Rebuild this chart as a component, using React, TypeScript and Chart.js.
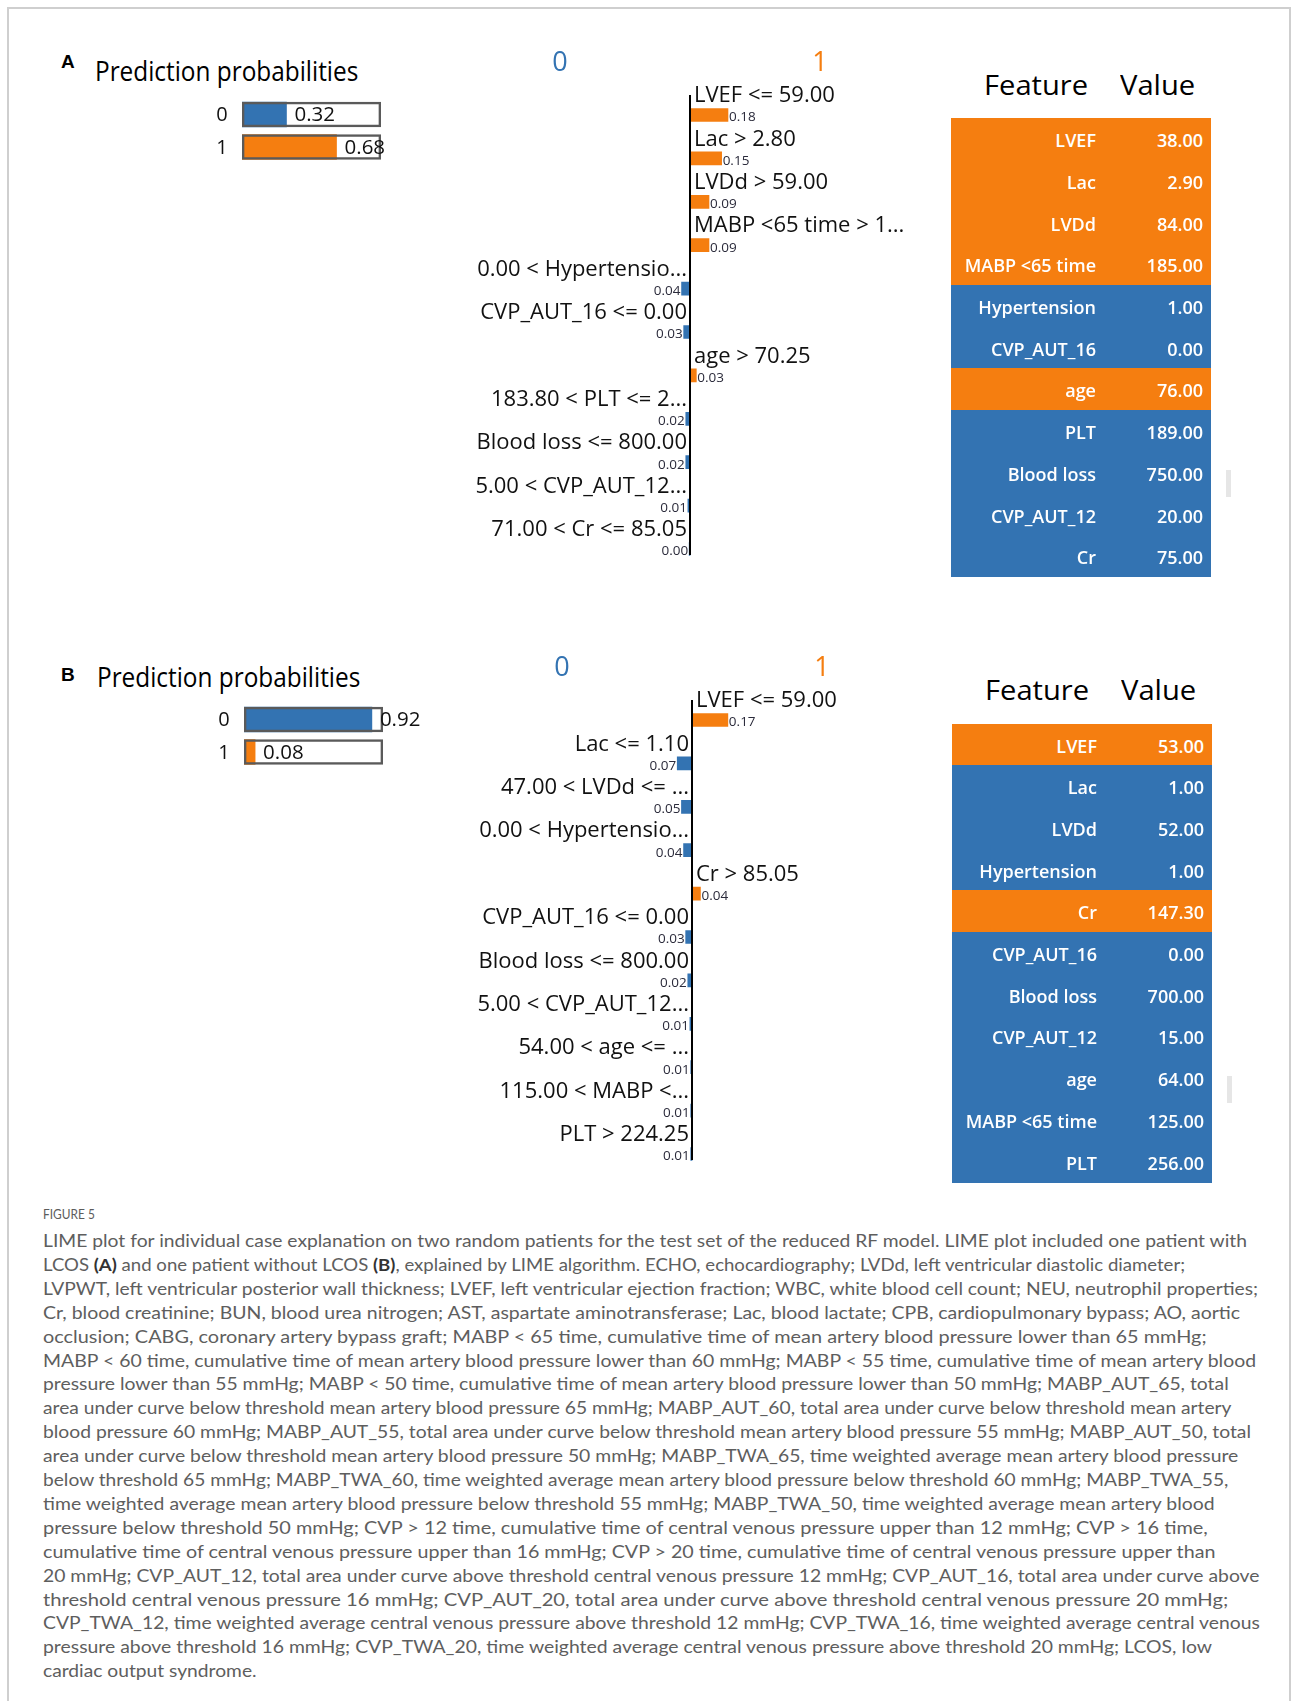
import React, { useEffect, useLayoutEffect, useRef, useState } from 'react';
import { Chart, registerables } from 'chart.js';

Chart.register(...registerables);

const ORANGE = '#f57e10';
const BLUE = '#3373b2';
const UI_FONT = '"Open Sans", "Noto Sans", sans-serif';
const CAPTION_FONT = 'Lato, "Open Sans", sans-serif';

const classNames = ['0', '1'];

// Case A: patient with LCOS
const probsA = [0.32, 0.68];
const rulesA = [
  'LVEF <= 59.00',
  'Lac > 2.80',
  'LVDd > 59.00',
  'MABP <65 time > 1...',
  '0.00 < Hypertensio...',
  'CVP_AUT_16 <= 0.00',
  'age > 70.25',
  '183.80 < PLT <= 2...',
  'Blood loss <= 800.00',
  '5.00 < CVP_AUT_12...',
  '71.00 < Cr <= 85.05',
];
const weightsA = [0.18, 0.15, 0.09, 0.09, -0.04, -0.03, 0.03, -0.02, -0.02, -0.01, -0.004];
const featuresA = ['LVEF', 'Lac', 'LVDd', 'MABP <65 time', 'Hypertension', 'CVP_AUT_16', 'age', 'PLT', 'Blood loss', 'CVP_AUT_12', 'Cr'];
const valuesA = [38, 2.9, 84, 185, 1, 0, 76, 189, 750, 20, 75];

// Case B: patient without LCOS
const probsB = [0.92, 0.08];
const rulesB = [
  'LVEF <= 59.00',
  'Lac <= 1.10',
  '47.00 < LVDd <= ...',
  '0.00 < Hypertensio...',
  'Cr > 85.05',
  'CVP_AUT_16 <= 0.00',
  'Blood loss <= 800.00',
  '5.00 < CVP_AUT_12...',
  '54.00 < age <= ...',
  '115.00 < MABP <...',
  'PLT > 224.25',
];
const weightsB = [0.17, -0.07, -0.05, -0.04, 0.04, -0.03, -0.02, -0.01, -0.006, -0.006, -0.006];
const featuresB = ['LVEF', 'Lac', 'LVDd', 'Hypertension', 'Cr', 'CVP_AUT_16', 'Blood loss', 'CVP_AUT_12', 'age', 'MABP <65 time', 'PLT'];
const valuesB = [53, 1, 52, 1, 147.3, 0, 700, 15, 64, 125, 256];

const captionLines: (string | { b: string })[][] = [
  ['LIME plot for individual case explanation on two random patients for the test set of the reduced RF model. LIME plot included one patient with'],
  ['LCOS ', { b: '(A)' }, ' and one patient without LCOS ', { b: '(B)' }, ', explained by LIME algorithm. ECHO, echocardiography; LVDd, left ventricular diastolic diameter;'],
  ['LVPWT, left ventricular posterior wall thickness; LVEF, left ventricular ejection fraction; WBC, white blood cell count; NEU, neutrophil properties;'],
  ['Cr, blood creatinine; BUN, blood urea nitrogen; AST, aspartate aminotransferase; Lac, blood lactate; CPB, cardiopulmonary bypass; AO, aortic'],
  ['occlusion; CABG, coronary artery bypass graft; MABP < 65 time, cumulative time of mean artery blood pressure lower than 65 mmHg;'],
  ['MABP < 60 time, cumulative time of mean artery blood pressure lower than 60 mmHg; MABP < 55 time, cumulative time of mean artery blood'],
  ['pressure lower than 55 mmHg; MABP < 50 time, cumulative time of mean artery blood pressure lower than 50 mmHg; MABP_AUT_65, total'],
  ['area under curve below threshold mean artery blood pressure 65 mmHg; MABP_AUT_60, total area under curve below threshold mean artery'],
  ['blood pressure 60 mmHg; MABP_AUT_55, total area under curve below threshold mean artery blood pressure 55 mmHg; MABP_AUT_50, total'],
  ['area under curve below threshold mean artery blood pressure 50 mmHg; MABP_TWA_65, time weighted average mean artery blood pressure'],
  ['below threshold 65 mmHg; MABP_TWA_60, time weighted average mean artery blood pressure below threshold 60 mmHg; MABP_TWA_55,'],
  ['time weighted average mean artery blood pressure below threshold 55 mmHg; MABP_TWA_50, time weighted average mean artery blood'],
  ['pressure below threshold 50 mmHg; CVP > 12 time, cumulative time of central venous pressure upper than 12 mmHg; CVP > 16 time,'],
  ['cumulative time of central venous pressure upper than 16 mmHg; CVP > 20 time, cumulative time of central venous pressure upper than'],
  ['20 mmHg; CVP_AUT_12, total area under curve above threshold central venous pressure 12 mmHg; CVP_AUT_16, total area under curve above'],
  ['threshold central venous pressure 16 mmHg; CVP_AUT_20, total area under curve above threshold central venous pressure 20 mmHg;'],
  ['CVP_TWA_12, time weighted average central venous pressure above threshold 12 mmHg; CVP_TWA_16, time weighted average central venous'],
  ['pressure above threshold 16 mmHg; CVP_TWA_20, time weighted average central venous pressure above threshold 20 mmHg; LCOS, low'],
  ['cardiac output syndrome.'],
];

// Set width of each caption line in the column
const captionWidths = [1204, 1142, 1215, 1197, 1164, 1213, 1186, 1188, 1208, 1195, 1186, 1172, 1165, 1172, 1217, 1185, 1217, 1169, 214];

// Pixels per unit of LIME weight and row pitch of the explanation bars
const LIME_UNIT = 211;
const LIME_ROW = 43.4;
const PROB_BOX = 139;
const PROB_ROW = 32.5;

const probLabelPlugin = {
  id: 'probLabels',
  afterDatasetsDraw(chart: any) {
    const { ctx } = chart;
    const x = chart.scales.x;
    const y = chart.scales.y;
    const probs = chart.data.datasets[0].data as number[];
    ctx.save();
    ctx.fillStyle = '#111';
    ctx.textBaseline = 'middle';
    probs.forEach((p, i) => {
      const yc = y.getPixelForValue(i);
      ctx.font = `20px ${UI_FONT}`;
      ctx.textAlign = 'center';
      ctx.fillText(classNames[i], x.getPixelForValue(0) - 20, yc + 1);
      ctx.font = `20.5px ${UI_FONT}`;
      ctx.textAlign = 'left';
      ctx.fillText(p.toFixed(2), x.getPixelForValue(p) + 8, yc + 1);
    });
    ctx.restore();
  },
};

function ProbChart({ areaLeft, firstCenter, probs }: { areaLeft: number; firstCenter: number; probs: number[] }) {
  const ref = useRef<HTMLCanvasElement>(null);
  const W = 260;
  const H = 72;
  const padLeft = 62;
  const padTop = 3.25;
  useEffect(() => {
    const chart = new Chart(ref.current!, {
      type: 'bar',
      data: {
        labels: classNames,
        datasets: [
          {
            data: probs,
            backgroundColor: [BLUE, ORANGE],
            borderWidth: 0,
            barThickness: 25,
            grouped: false,
            order: 1,
          } as any,
          {
            data: classNames.map(() => 1),
            backgroundColor: 'rgba(0,0,0,0)',
            borderColor: '#5a5a5a',
            borderWidth: 2,
            borderSkipped: false,
            barThickness: 25,
            grouped: false,
            order: 0,
          } as any,
        ],
      },
      options: {
        indexAxis: 'y',
        responsive: false,
        animation: false,
        layout: { padding: { left: padLeft, right: W - padLeft - PROB_BOX, top: padTop, bottom: H - padTop - PROB_ROW * 2 } },
        scales: { x: { display: false, min: 0, max: 1 }, y: { display: false } },
        plugins: { legend: { display: false }, tooltip: { enabled: false } },
      },
      plugins: [probLabelPlugin],
    });
    return () => chart.destroy();
  }, [probs]);
  const top = firstCenter - PROB_ROW / 2 - padTop;
  return (
    <canvas
      ref={ref}
      width={W}
      height={H}
      style={{ position: 'absolute', left: areaLeft - padLeft, top, width: W, height: H }}
    />
  );
}

const limePlugin = {
  id: 'limeRules',
  afterDatasetsDraw(chart: any) {
    const { ctx } = chart;
    const x = chart.scales.x;
    const y = chart.scales.y;
    const labels = chart.data.labels as string[];
    const w = chart.data.datasets[0].data as number[];
    const x0 = x.getPixelForValue(0);
    const yFirst = y.getPixelForValue(0);
    const yLast = y.getPixelForValue(w.length - 1);
    ctx.save();
    ctx.textBaseline = 'middle';
    ctx.font = `27px ${UI_FONT}`;
    ctx.textAlign = 'center';
    ctx.fillStyle = BLUE;
    ctx.fillText(classNames[0], x0 - 130, yFirst - 52);
    ctx.fillStyle = ORANGE;
    ctx.fillText(classNames[1], x0 + 130, yFirst - 52);

    ctx.fillStyle = '#000';
    ctx.fillRect(x0 - 1, yFirst - 20, 2, yLast - yFirst + 26);

    w.forEach((v, i) => {
      const yc = y.getPixelForValue(i);
      const xe = x.getPixelForValue(v);
      const pos = v > 0;
      ctx.textAlign = pos ? 'left' : 'right';
      ctx.fillStyle = '#111';
      ctx.font = `22px ${UI_FONT}`;
      ctx.fillText(labels[i], pos ? x0 + 4 : x0 - 3, yc - 19);
      ctx.fillStyle = '#2b2b3b';
      ctx.font = `13.5px ${UI_FONT}`;
      ctx.fillText(Math.abs(v).toFixed(2), pos ? xe + 1 : xe - 1, yc + 2.5);
    });
    ctx.restore();
  },
};

function LimeChart({ axisX, firstBar, rules, weights }: { axisX: number; firstBar: number; rules: string[]; weights: number[] }) {
  const ref = useRef<HTMLCanvasElement>(null);
  const W = 560;
  const H = 543;
  const leftOfAxis = 290;
  const padTop = 75 - LIME_ROW / 2;
  useEffect(() => {
    const chart = new Chart(ref.current!, {
      type: 'bar',
      data: {
        labels: rules,
        datasets: [
          {
            data: weights,
            backgroundColor: weights.map((v) => (v > 0 ? ORANGE : BLUE)),
            borderWidth: 0,
            barThickness: 13,
          } as any,
        ],
      },
      options: {
        indexAxis: 'y',
        responsive: false,
        animation: false,
        layout: {
          padding: {
            left: leftOfAxis - LIME_UNIT,
            right: W - leftOfAxis - LIME_UNIT,
            top: padTop,
            bottom: H - padTop - LIME_ROW * rules.length,
          },
        },
        scales: { x: { display: false, min: -1, max: 1 }, y: { display: false } },
        plugins: { legend: { display: false }, tooltip: { enabled: false } },
      },
      plugins: [limePlugin],
    });
    return () => chart.destroy();
  }, [rules, weights]);
  return (
    <canvas
      ref={ref}
      width={W}
      height={H}
      style={{ position: 'absolute', left: axisX - leftOfAxis, top: firstBar - 75, width: W, height: H }}
    />
  );
}

function FitText({
  children,
  left,
  centerY,
  width,
  font,
  color = '#111',
  lineH = 40,
}: {
  children: React.ReactNode;
  left: number;
  centerY: number;
  width: number;
  font: string;
  color?: string;
  lineH?: number;
}) {
  const ref = useRef<HTMLSpanElement>(null);
  const [sx, setSx] = useState(1);
  useLayoutEffect(() => {
    const measure = () => {
      const el = ref.current;
      if (el && el.offsetWidth > 0) setSx(width / el.offsetWidth);
    };
    measure();
    (document as any).fonts?.ready?.then(measure);
  }, [width, font]);
  return (
    <span
      ref={ref}
      style={{
        position: 'absolute',
        left,
        top: centerY - lineH / 2,
        height: lineH,
        lineHeight: `${lineH}px`,
        whiteSpace: 'nowrap',
        font,
        color,
        transform: `scaleX(${sx})`,
        transformOrigin: 'left center',
      }}
    >
      {children}
    </span>
  );
}

function FeatureTable({ left, top, features, values, weights }: { left: number; top: number; features: string[]; values: number[]; weights: number[] }) {
  const rowH = 41.7;
  const width = 260;
  return (
    <>
      <FitText left={left + 33} centerY={top - 33.5} width={104} font={`28px ${UI_FONT}`} color="#000">
        Feature
      </FitText>
      <FitText left={left + 169} centerY={top - 33.5} width={75} font={`28px ${UI_FONT}`} color="#000">
        Value
      </FitText>
      {features.map((f, i) => (
        <div
          key={f + i}
          style={{
            position: 'absolute',
            left,
            top: top + i * rowH,
            width,
            height: rowH + 0.5,
            background: weights[i] > 0 ? ORANGE : BLUE,
            color: '#fff',
            font: `600 18px ${UI_FONT}`,
          }}
        >
          <span style={{ position: 'absolute', right: width - 145, top: 2, lineHeight: `${rowH}px`, whiteSpace: 'nowrap' }}>{f}</span>
          <span style={{ position: 'absolute', right: width - 252, top: 2, lineHeight: `${rowH}px`, whiteSpace: 'nowrap' }}>
            {values[i].toFixed(2)}
          </span>
        </div>
      ))}
      <div style={{ position: 'absolute', left: left + 275, top: top + 352, width: 5, height: 27, background: '#e6e6e6' }} />
    </>
  );
}

function Panel(props: {
  letter: string;
  letterY: number;
  titleLeft: number;
  titleY: number;
  probLeft: number;
  probCenter: number;
  probs: number[];
  axisX: number;
  firstBar: number;
  rules: string[];
  weights: number[];
  tableLeft: number;
  tableTop: number;
  features: string[];
  values: number[];
}) {
  return (
    <>
      <span
        style={{
          position: 'absolute',
          left: 61,
          top: props.letterY - 12,
          lineHeight: '24px',
          font: 'bold 19px "Liberation Sans", Arial, sans-serif',
          color: '#000',
        }}
      >
        {props.letter}
      </span>
      <FitText left={props.titleLeft} centerY={props.titleY} width={263} font={`26.5px ${UI_FONT}`} color="#000">
        Prediction probabilities
      </FitText>
      <ProbChart areaLeft={props.probLeft} firstCenter={props.probCenter} probs={props.probs} />
      <LimeChart axisX={props.axisX} firstBar={props.firstBar} rules={props.rules} weights={props.weights} />
      <FeatureTable left={props.tableLeft} top={props.tableTop} features={props.features} values={props.values} weights={props.weights} />
    </>
  );
}

function Caption() {
  const lineH = 23.9;
  return (
    <>
      <FitText left={43} centerY={1216} width={52} font={`13.5px ${CAPTION_FONT}`} color="#5c5c5c" lineH={20}>
        FIGURE 5
      </FitText>
      {captionLines.map((parts, i) => (
        <FitText
          key={i}
          left={43}
          centerY={1242 + i * lineH}
          width={captionWidths[i]}
          font={`17.5px ${CAPTION_FONT}`}
          color="#5e5e5e"
          lineH={24}
        >
          {parts.map((p, j) =>
            typeof p === 'string' ? (
              <span key={j}>{p}</span>
            ) : (
              <b key={j} style={{ color: '#333' }}>
                {p.b}
              </b>
            )
          )}
        </FitText>
      ))}
    </>
  );
}

export default function App() {
  return (
    <div style={{ position: 'absolute', left: 0, top: 0, width: 1293, height: 1701, overflow: 'hidden', background: '#fff' }}>
      <div
        style={{
          position: 'absolute',
          left: 7,
          top: 7,
          width: 1284,
          height: 1800,
          border: '2px solid #cfcfcf',
          boxSizing: 'border-box',
        }}
      />
      <Panel
        letter="A"
        letterY={63}
        titleLeft={95}
        titleY={73}
        probLeft={242}
        probCenter={114.5}
        probs={probsA}
        axisX={689.5}
        firstBar={115}
        rules={rulesA}
        weights={weightsA}
        tableLeft={951}
        tableTop={118.2}
        features={featuresA}
        values={valuesA}
      />
      <Panel
        letter="B"
        letterY={675.5}
        titleLeft={96.5}
        titleY={679}
        probLeft={244}
        probCenter={719.5}
        probs={probsB}
        axisX={691.5}
        firstBar={720.3}
        rules={rulesB}
        weights={weightsB}
        tableLeft={952}
        tableTop={723.5}
        features={featuresB}
        values={valuesB}
      />
      <Caption />
    </div>
  );
}
